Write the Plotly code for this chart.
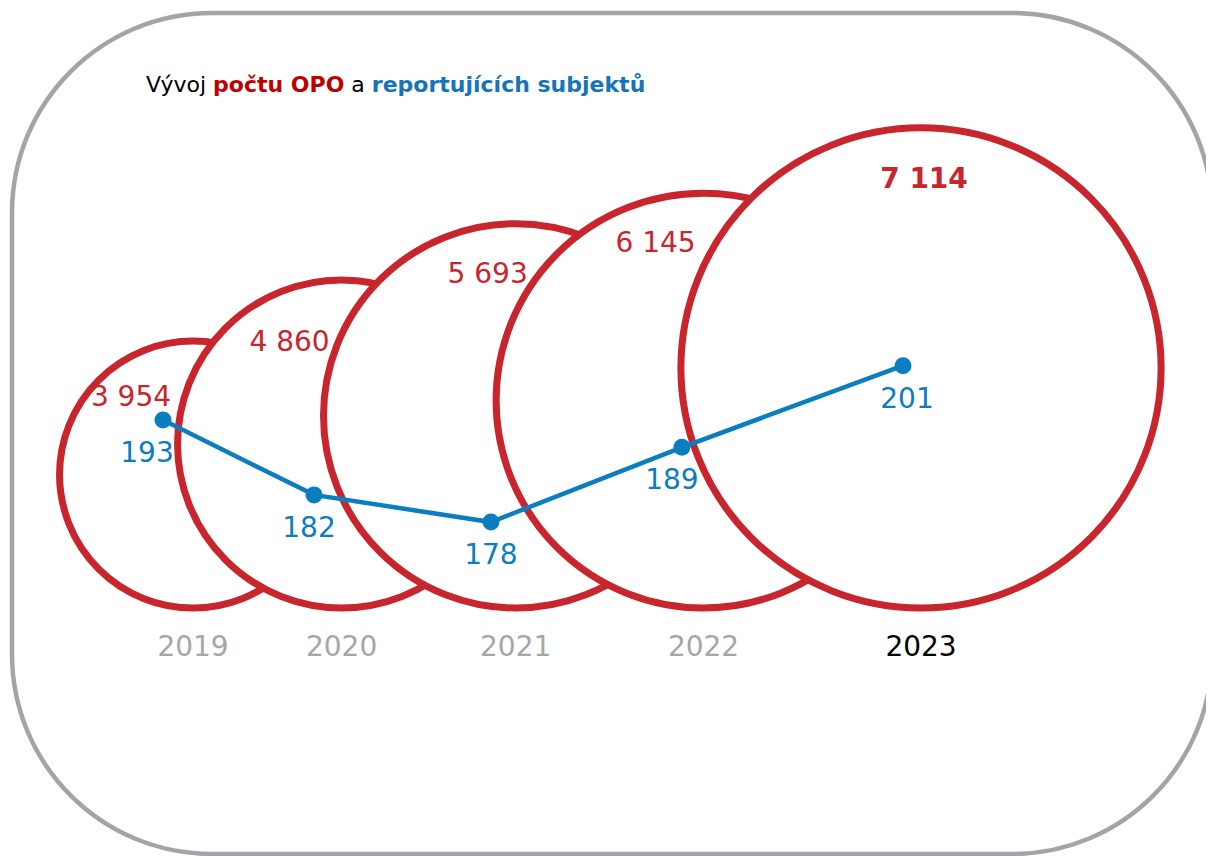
import itertools
import plotly.graph_objects as go

# ---------------- data ----------------
years = [2019, 2020, 2021, 2022, 2023]
opo_counts = [3954, 4860, 5693, 6145, 7114]          # počet OPO (circles)
opo_labels = ["3 954", "4 860", "5 693", "6 145", "<b>7 114</b>"]
reporting = [193, 182, 178, 189, 201]                # reportující subjekty (line)
year_labels = ["2019", "2020", "2021", "2022", "2023"]

# ---------------- style / layout constants ----------------
OFF = 8                     # page body margin of the html page
W, H = 1214 - OFF, 856 - OFF
FONT = "DejaVu Sans"
RED = "#C8252D"
RED_TITLE = "#C00000"
BLUE = "#0B7DC1"
BLUE_TITLE = "#1874BA"
GREY_YEAR = "#A6A6A6"
BORDER = "#A4A4A8"

# horizontal layout: each year advances by an amount proportional to its OPO count
pos = [0] + list(itertools.accumulate(opo_counts[1:]))
CX = 0.030573            # px per position unit (circles)
X0_PX = 193 - OFF        # pixel of first circle centre
CL = 0.031077            # px per position unit (line)
LX0_PX = 163 - OFF       # pixel of first line point
S = 0.0675               # px per OPO unit (circle diameter scale)
BASE_PX = 608 - OFF      # circle bottoms
PLOT_BOTTOM_PX = 627 - OFF
# line axis: px = L_MID_PX - L_SCALE * (v - L_MID_V)
L_MID_V, L_MID_PX, L_SCALE = 188.6, 450 - OFF, 6.8

# label offsets (px)
lab_dx = [-62, -52, -28, -48, 3]       # red labels, from circle centre
lab_dy = [58, 64, 52, 52, 53]          # red labels, below circle top
line_lab_dx = [-16, -5, 0, -10, 4]     # blue labels
LINE_LAB_DY = 35

fig = go.Figure()

# circles: scatter markers whose diameter is proportional to the value
fig.add_trace(go.Scatter(
    x=pos, y=[v / 2 for v in opo_counts], mode="markers",
    marker=dict(size=opo_counts, sizemode="diameter", sizeref=1 / S,
                color="white", line=dict(color=RED, width=7), opacity=1),
    hoverinfo="skip", cliponaxis=False, showlegend=False,
))

# red value labels
fig.add_trace(go.Scatter(
    x=[p + dx / CX for p, dx in zip(pos, lab_dx)],
    y=[v - dy / S for v, dy in zip(opo_counts, lab_dy)],
    mode="text", text=opo_labels,
    textfont=dict(family=FONT, size=28, color=RED),
    textposition="middle center", hoverinfo="skip", cliponaxis=False,
    showlegend=False,
))

# reporting subjects line
fig.add_trace(go.Scatter(
    x=pos, y=reporting, xaxis="x2", yaxis="y2",
    mode="lines+markers",
    line=dict(color=BLUE, width=4.5),
    marker=dict(color=BLUE, size=17),
    hoverinfo="skip", cliponaxis=False, showlegend=False,
))
fig.add_trace(go.Scatter(
    x=[p + dx / CL for p, dx in zip(pos, line_lab_dx)],
    y=[v - LINE_LAB_DY / L_SCALE for v in reporting],
    xaxis="x2", yaxis="y2", mode="text", text=[str(v) for v in reporting],
    textposition="middle center",
    textfont=dict(family=FONT, size=28, color=BLUE),
    hoverinfo="skip", cliponaxis=False, showlegend=False,
))

# rounded border (paper coordinates from pixels)
def P(px, py):
    return f"{px / W:.5f},{1 - py / H:.5f}"

x0, x1, y0, y1, r = 12 - OFF, 1212 - OFF, 13 - OFF, 854 - OFF, 200
k = 0.5523 * r
path = (
    f"M {P(x0 + r, y0)} L {P(x1 - r, y0)} "
    f"C {P(x1 - r + k, y0)} {P(x1, y0 + r - k)} {P(x1, y0 + r)} "
    f"L {P(x1, y1 - r)} "
    f"C {P(x1, y1 - r + k)} {P(x1 - r + k, y1)} {P(x1 - r, y1)} "
    f"L {P(x0 + r, y1)} "
    f"C {P(x0 + r - k, y1)} {P(x0, y1 - r + k)} {P(x0, y1 - r)} "
    f"L {P(x0, y0 + r)} "
    f"C {P(x0, y0 + r - k)} {P(x0 + r - k, y0)} {P(x0 + r, y0)} Z"
)
fig.add_shape(type="path", path=path, xref="paper", yref="paper",
              line=dict(color=BORDER, width=4.5), layer="below")

# title
fig.add_annotation(
    xref="paper", yref="paper", x=(144 - OFF) / W, y=1 - (84 - OFF) / H,
    xanchor="left", yanchor="middle", showarrow=False,
    text=(f"Vývoj <b><span style='color:{RED_TITLE}'>počtu OPO</span></b> a "
          f"<b><span style='color:{BLUE_TITLE}'>reportujících subjektů</span></b>"),
    font=dict(family=FONT, size=22, color="black"),
)

tick_text = [f"<span style='color:{GREY_YEAR}'>{t}</span>" for t in year_labels[:-1]] + \
            [f"<span style='color:black'>{year_labels[-1]}</span>"]

dom_bottom = 1 - PLOT_BOTTOM_PX / H
fig.update_layout(
    width=W, height=H, margin=dict(l=0, r=0, t=0, b=0),
    paper_bgcolor="white", plot_bgcolor="rgba(0,0,0,0)",
    font=dict(family=FONT),
    xaxis=dict(range=[-X0_PX / CX, (W - X0_PX) / CX],
               tickvals=pos, ticktext=tick_text,
               tickfont=dict(family=FONT, size=28, color=GREY_YEAR),
               showgrid=False, zeroline=False, showline=False, ticks=""),
    yaxis=dict(range=[-(PLOT_BOTTOM_PX - BASE_PX) / S, BASE_PX / S],
               domain=[dom_bottom, 1], visible=False),
    xaxis2=dict(range=[-LX0_PX / CL, (W - LX0_PX) / CL],
                overlaying="x", visible=False),
    yaxis2=dict(range=[L_MID_V - (PLOT_BOTTOM_PX - L_MID_PX) / L_SCALE,
                       L_MID_V + L_MID_PX / L_SCALE],
                domain=[dom_bottom, 1], overlaying="y", visible=False),
)

fig.write_html("out.html")
